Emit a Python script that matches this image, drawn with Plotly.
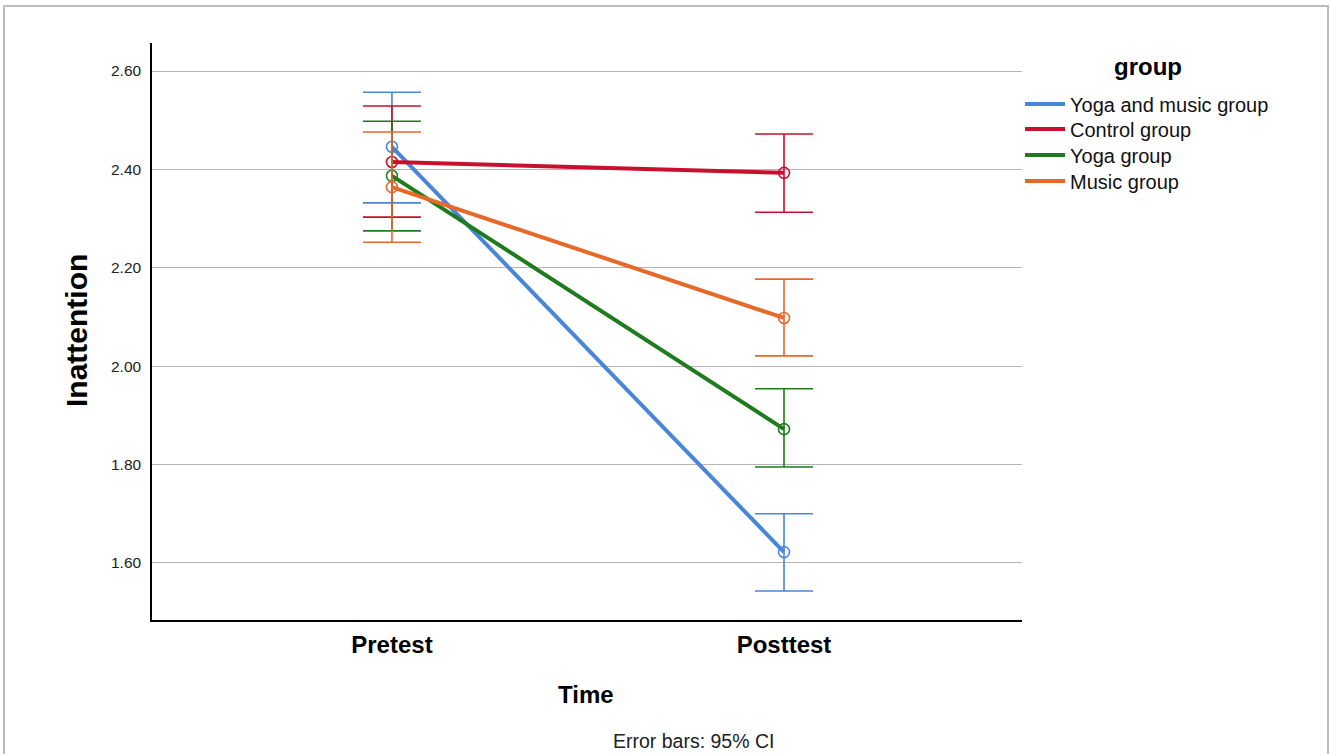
import plotly.graph_objects as go

times = ["Pretest", "Posttest"]
groups = ["Yoga and music group", "Control group", "Yoga group", "Music group"]
colors = ["#4A86D8", "#C8102E", "#1E7B1E", "#E8682A"]

means = {
    "Yoga and music group": [2.446, 1.622],
    "Control group": [2.415, 2.393],
    "Yoga group": [2.387, 1.872],
    "Music group": [2.364, 2.098],
}
upper = {
    "Yoga and music group": [2.557, 1.700],
    "Control group": [2.529, 2.472],
    "Yoga group": [2.498, 1.954],
    "Music group": [2.476, 2.177],
}
lower = {
    "Yoga and music group": [2.332, 1.543],
    "Control group": [2.303, 2.313],
    "Yoga group": [2.275, 1.795],
    "Music group": [2.252, 2.021],
}

W, H = 1330, 754
L, R, T, B = 152, 308, 43, 134
PW, PH = W - L - R, H - T - B


def px(x):
    return (x - L) / PW


def py(y):
    return 1 - (y - T) / PH


fig = go.Figure()
xpos = [0, 1]
for g, c in zip(groups, colors):
    m = means[g]
    fig.add_trace(go.Scatter(
        x=xpos, y=m, name=g, mode="lines+markers", showlegend=False,
        line=dict(color=c, width=4),
        marker=dict(symbol="circle-open", size=11, color=c, line=dict(width=1.6, color=c)),
        error_y=dict(type="data", symmetric=False,
                     array=[u - v for u, v in zip(upper[g], m)],
                     arrayminus=[v - l for v, l in zip(m, lower[g])],
                     color=c, thickness=1.6, width=29),
    ))

# legend entries (line-only samples), one legend each for exact spacing
legend_y = [104, 129, 155, 181]
legend_keys = ["legend", "legend2", "legend3", "legend4"]
legend_layout = {}
for g, c, ly, key in zip(groups, colors, legend_y, legend_keys):
    fig.add_trace(go.Scatter(
        x=[None], y=[None], name=g, mode="lines",
        line=dict(color=c, width=4), legend=key, showlegend=True,
    ))
    legend_layout[key] = dict(
        x=px(1020), xanchor="left", y=py(ly), yanchor="middle",
        font=dict(size=20, color="#111"), itemwidth=40,
        bgcolor="rgba(0,0,0,0)", borderwidth=0,
    )

fig.update_layout(
    width=W, height=H,
    paper_bgcolor="white", plot_bgcolor="white",
    margin=dict(l=L, r=R, t=T, b=B),
    font=dict(family="Liberation Sans, Arial, sans-serif", color="#000"),
    showlegend=True,
    **legend_layout,
    shapes=[dict(type="rect", xref="paper", yref="paper",
                 x0=px(4), x1=px(1328), y0=py(762), y1=py(6),
                 line=dict(color="#bdbdbd", width=2))],
    annotations=[
        dict(text="<b>group</b>", xref="paper", yref="paper",
             x=px(1148), y=py(67), xanchor="center", yanchor="middle",
             showarrow=False, font=dict(size=24)),
        dict(text="<b>Inattention</b>", xref="paper", yref="paper",
             x=px(76), y=py(331), xanchor="center", yanchor="middle",
             textangle=-90, showarrow=False, font=dict(size=30)),
        dict(text="<b>Time</b>", xref="paper", yref="paper",
             x=px(586), y=py(694), xanchor="center", yanchor="middle",
             showarrow=False, font=dict(size=24)),
        dict(text="Error bars: 95% CI", xref="paper", yref="paper",
             x=px(693), y=py(741), xanchor="center", yanchor="middle",
             showarrow=False, font=dict(size=19.5, color="#222")),
    ],
)

fig.update_xaxes(
    range=[-0.612, 1.607],
    tickvals=xpos, ticktext=["<b>%s</b>" % t for t in times],
    tickfont=dict(size=24), ticks="", ticklabelstandoff=2,
    showline=True, linecolor="#000", linewidth=1.5,
    showgrid=False, zeroline=False,
)
fig.update_yaxes(
    range=[1.484, 2.657],
    tickvals=[1.6, 1.8, 2.0, 2.2, 2.4, 2.6], tickformat=".2f",
    tickfont=dict(size=15.5, color="#222"), ticks="", ticklabelstandoff=6,
    showline=True, linecolor="#000", linewidth=1.5,
    showgrid=True, gridcolor="#b5b5b5", gridwidth=1.2, zeroline=False,
)

fig.write_html("out.html", config={"displayModeBar": False},
               post_script="document.body.style.margin='0';document.body.style.overflow='hidden';")
